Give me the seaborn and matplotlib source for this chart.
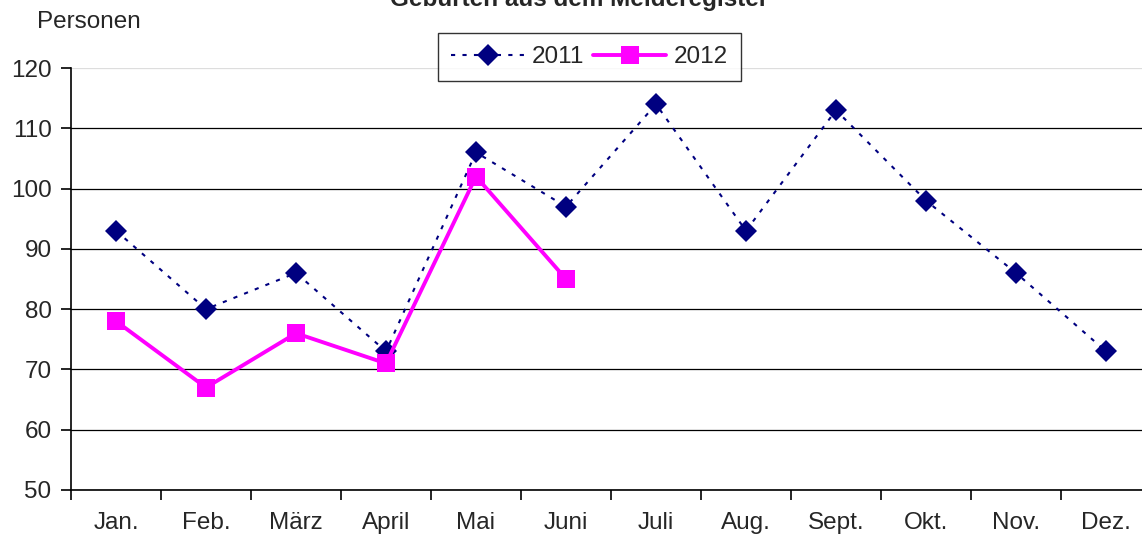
import seaborn as sns
import pandas as pd
import numpy as np
import matplotlib.pyplot as plt

months = ['Jan.', 'Feb.', 'März', 'April', 'Mai', 'Juni', 'Juli', 'Aug.', 'Sept.', 'Okt.', 'Nov.', 'Dez.']
births_2011 = [93, 80, 86, 73, 106, 97, 114, 93, 113, 98, 86, 73]
births_2012 = [78, 67, 76, 71, 102, 85]
yticks = [50, 60, 70, 80, 90, 100, 110, 120]

sns.set_style('white')
plt.rcParams['font.family'] = ['Liberation Sans', 'DejaVu Sans']

fig = plt.figure(figsize=(11.42, 5.38), dpi=100)
ax = fig.add_axes([71 / 1142, 1 - 490 / 538, 1080 / 1142, 422 / 538])

df11 = pd.DataFrame({'Monat': months, 'Personen': births_2011})
df12 = pd.DataFrame({'Monat': months[:len(births_2012)], 'Personen': births_2012})

sns.lineplot(data=df11, x='Monat', y='Personen', ax=ax, sort=False, color='#000080',
             linestyle=(0, (2, 3.5)), linewidth=1.5, marker='D', markersize=11.5,
             markeredgewidth=0, label='2011')
sns.lineplot(data=df12, x='Monat', y='Personen', ax=ax, sort=False, color='#FF00FF',
             linewidth=2.8, marker='s', markersize=13.5, markeredgewidth=0, label='2012')

ax.set_xlim(-0.5, len(months) - 0.5)
ax.set_ylim(50, 120)
ax.set_yticks(yticks)
ax.set_xticks(np.arange(len(months)))
ax.set_xticklabels(months)
ax.set_xticks(np.arange(len(months) + 1) - 0.5, minor=True)
ax.tick_params(axis='x', which='major', length=0, pad=16, labelsize=17.5)
ax.tick_params(axis='x', which='minor', length=7, width=1.2, direction='out', color='black', bottom=True)
ax.tick_params(axis='y', length=7, width=1.2, direction='out', color='black', left=True, labelsize=17.5, pad=7)
ax.set_xlabel('')
ax.set_ylabel('')

ax.grid(axis='y', color='black', linewidth=0.9)
ax.set_axisbelow(True)
for s in ['top', 'right']:
    ax.spines[s].set_visible(False)
for s in ['left', 'bottom']:
    ax.spines[s].set_color('black')
    ax.spines[s].set_linewidth(1.2)

leg = ax.legend(loc='center', bbox_to_anchor=(0.48, 1.026), ncol=2, frameon=True,
                fancybox=False, edgecolor='black', fontsize=17.5, handlelength=3.0,
                columnspacing=0.4, handletextpad=0.3, borderpad=0.55, borderaxespad=0)
leg.get_frame().set_linewidth(1.0)

fig.text(37 / 1142, 1 - 22 / 538, 'Personen', fontsize=17.5, va='center', ha='left')
fig.text(579 / 1142, 1 - 6 / 538, 'Geburten aus dem Melderegister', fontsize=17.5,
         fontweight='bold', ha='center', va='baseline')

fig.canvas.draw()
for loc, gl in zip(ax.get_yticks(), ax.yaxis.get_gridlines()):
    if loc == yticks[-1]:
        gl.set_color('#dddddd')

fig.savefig('out.png', dpi=100)
